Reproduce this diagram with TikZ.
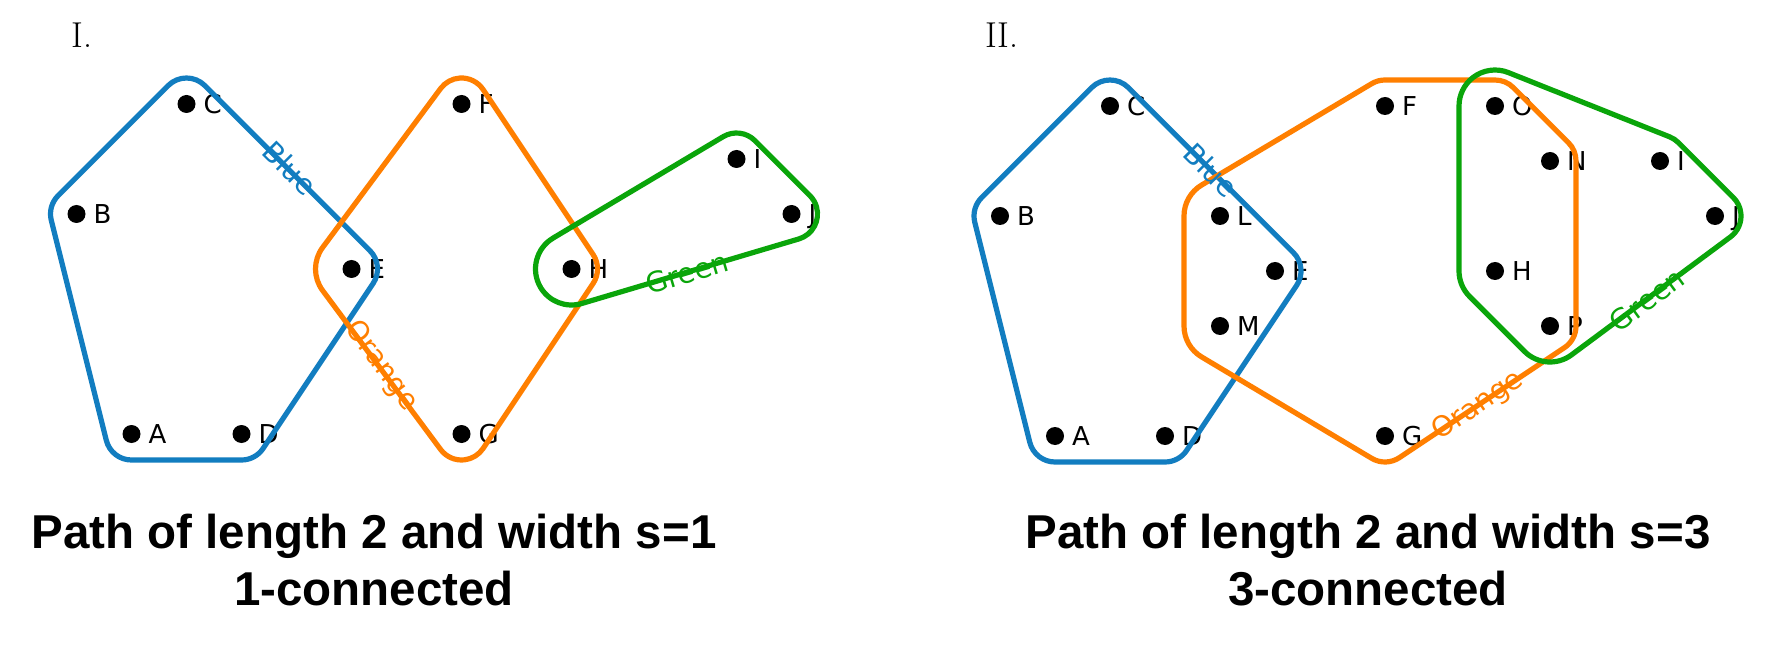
\documentclass[tikz,border=0pt]{standalone}
\usepackage{fontspec}
\newfontfamily\lblfont{DejaVu Sans}
\newfontfamily\titlefont{Liberation Sans}
\definecolor{hblue}{RGB}{18,125,192}
\definecolor{horange}{RGB}{255,127,0}
\definecolor{hgreen}{RGB}{10,165,10}

\newcommand\hull[2]{%
  \foreach \hx/\hy/\hr [count=\hi] in {#2}{%
    \expandafter\xdef\csname hX\hi\endcsname{\hx}%
    \expandafter\xdef\csname hY\hi\endcsname{\hy}%
    \expandafter\xdef\csname hR\hi\endcsname{\hr}%
    \xdef\hullN{\hi}%
  }%
  \foreach \hi in {1,...,\hullN}{%
    \pgfmathtruncatemacro\hj{mod(\hi,\hullN)+1}%
    \pgfmathsetmacro\hdx{\csname hX\hj\endcsname-\csname hX\hi\endcsname}%
    \pgfmathsetmacro\hdy{\csname hY\hj\endcsname-\csname hY\hi\endcsname}%
    \pgfmathsetmacro\hd{100*veclen(\hdx/100,\hdy/100)}%
    \pgfmathsetmacro\ha{atan2(\hdy,\hdx)-90+asin((\csname hR\hi\endcsname-\csname hR\hj\endcsname)/\hd)}%
    \expandafter\xdef\csname hA\hi\endcsname{\ha}%
  }%
  \pgfmathsetmacro\hsx{\csname hX1\endcsname+\csname hR1\endcsname*cos(\csname hA\hullN\endcsname)}%
  \pgfmathsetmacro\hsy{\csname hY1\endcsname+\csname hR1\endcsname*sin(\csname hA\hullN\endcsname)}%
  \xdef\hullpath{(\hsx,\hsy)}%
  \foreach \hi in {1,...,\hullN}{%
    \pgfmathtruncatemacro\hp{mod(\hi+\hullN-2,\hullN)+1}%
    \pgfmathtruncatemacro\hj{mod(\hi,\hullN)+1}%
    \pgfmathsetmacro\hs{\csname hA\hp\endcsname}%
    \pgfmathsetmacro\he{\csname hA\hi\endcsname}%
    \pgfmathsetmacro\he{\he<\hs ? \he+360 : \he}%
    \xdef\hullpath{\hullpath\space arc[start angle=\hs,end angle=\he,radius=\csname hR\hi\endcsname]}%
    \ifnum\hi<\hullN\relax
      \pgfmathsetmacro\hnx{\csname hX\hj\endcsname+\csname hR\hj\endcsname*cos(\he)}%
      \pgfmathsetmacro\hny{\csname hY\hj\endcsname+\csname hR\hj\endcsname*sin(\he)}%
      \xdef\hullpath{\hullpath\space -- (\hnx,\hny)}%
    \fi
  }%
  \begingroup\edef\x{\endgroup\noexpand\draw[hullline,#1] \hullpath\space -- cycle;}\x
}

\newcommand\vtx[4]{%
  \node[dot] (#1) at (#2,#3) {};
  \node[vlbl] (#1l) at (#2+17,#3-9.5) {#4};
}

\begin{document}
\begin{tikzpicture}[x=1pt,y=1pt,
  dot/.style={circle,fill=black,inner sep=0pt,minimum size=18pt},
  vlbl/.style={anchor=base west,inner sep=0pt,font={\lblfont\fontsize{26}{30}\selectfont}},
  hullline/.style={line width=5.2pt,line join=round},
  elabel/.style={inner sep=0pt,font={\lblfont\fontsize{28}{32}\selectfont}},
  ttl/.style={anchor=base,inner sep=0pt,font={\titlefont\bfseries\fontsize{47.5}{56}\selectfont}},
  pnum/.style={anchor=base west,inner sep=0pt,font={\fontsize{36}{40}\selectfont}}]
\fill[white] (0,0) rectangle (1790,646);
\useasboundingbox (0,0) rectangle (1790,646);

% ---------------- Panel I ----------------
\node[pnum] (pI) at (71,598) {I.};
\vtx{IB}{76.5}{432}{B}
\vtx{IA}{131.5}{212}{A}
\vtx{IC}{186.5}{542}{C}
\vtx{ID}{241.5}{212}{D}
\vtx{IE}{351.5}{377}{E}
\vtx{IF}{461.5}{542}{F}
\vtx{IG}{461.5}{212}{G}
\vtx{IH}{571.5}{377}{H}
\vtx{II}{736.5}{487}{I}
\vtx{IJ}{791.5}{432}{J}

\hull{hblue}{186.5/542/26, 76.5/432/26, 131.5/212/26, 241.5/212/26, 351.5/377/26}
\hull{horange}{461.5/542/26, 351.5/377/36, 461.5/212/26, 571.5/377/26}
\hull{hgreen}{571.5/377/36, 791.5/432/26, 736.5/487/26}

\node[elabel,text=hblue,rotate=-45] (IblueL) at (290,478) {Blue};
\node[elabel,text=horange,rotate=-54] (IorangeL) at (381,280) {Orange};
\node[elabel,text=hgreen,rotate=16.5] (IgreenL) at (687,373) {Green};

\node[ttl] (t1a) at (374,98) {Path of length 2 and width s=1};
\node[ttl] (t1b) at (374,41) {1-connected};

% ---------------- Panel II ----------------
\node[pnum] (pII) at (985,598) {II.};
\vtx{JB}{1000}{430}{B}
\vtx{JA}{1055}{210}{A}
\vtx{JC}{1110}{540}{C}
\vtx{JD}{1165}{210}{D}
\vtx{JL}{1220}{430}{L}
\vtx{JM}{1220}{320}{M}
\vtx{JE}{1275}{375}{E}
\vtx{JF}{1385}{540}{F}
\vtx{JG}{1385}{210}{G}
\vtx{JO}{1495}{540}{O}
\vtx{JH}{1495}{375}{H}
\vtx{JN}{1550}{485}{N}
\vtx{JP}{1550}{320}{P}
\vtx{JI}{1660}{485}{I}
\vtx{JJ}{1715}{430}{J}

\hull{hblue}{1110/540/26, 1000/430/26, 1055/210/26, 1165/210/26, 1275/375/26}
\hull{horange}{1385/540/26, 1220/430/36, 1220/320/36, 1385/210/26, 1550/320/26, 1550/485/26, 1495/540/26}
\hull{hgreen}{1495/540/36, 1495/375/36, 1550/320/36, 1715/430/26, 1660/485/26}

\node[elabel,text=hblue,rotate=-45] (JblueL) at (1211,476) {Blue};
\node[elabel,text=horange,rotate=33.7] (JorangeL) at (1478,240) {Orange};
\node[elabel,text=hgreen,rotate=36] (JgreenL) at (1647,346) {Green};

\node[ttl] (t2a) at (1368,98) {Path of length 2 and width s=3};
\node[ttl] (t2b) at (1368,41) {3-connected};
\end{tikzpicture}
\end{document}
